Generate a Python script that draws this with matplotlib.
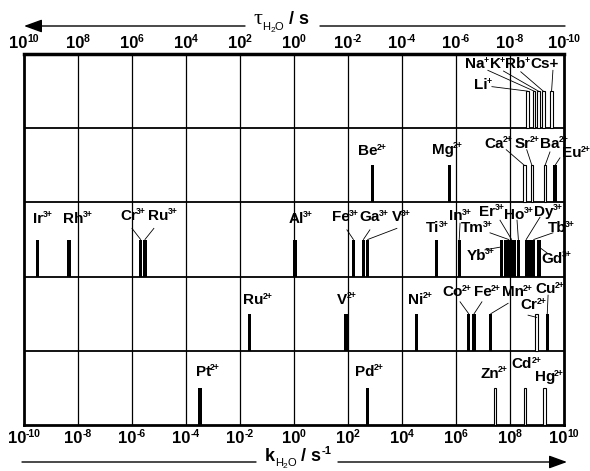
import matplotlib
matplotlib.use('Agg')
import matplotlib.pyplot as plt
import matplotlib.transforms as mtrans
from matplotlib.transforms import offset_copy
from matplotlib.patches import FancyArrowPatch

plt.rcParams['font.family'] = ['Liberation Sans', 'DejaVu Sans']

NARROW = ['Liberation Sans Narrow', 'Liberation Sans', 'DejaVu Sans']
LS = ['Liberation Sans', 'DejaVu Sans']

# ---------------- data (log10 of water exchange rate constant, s^-1) ----------------
row1_ions = ['Li+', 'Na+', 'K+', 'Rb+', 'Cs+']
row1_logk = [8.64, 8.89, 9.05, 9.23, 9.54]
row1_hollow = [True, True, True, True, True]

row2_ions = ['Be2+', 'Mg2+', 'Ca2+', 'Sr2+', 'Ba2+', 'Eu2+']
row2_logk = [2.91, 5.75, 8.53, 8.81, 9.30, 9.67]
row2_hollow = [False, False, True, True, True, False]

row3_ions = ['Ir3+', 'Rh3+', 'Cr3+', 'Ru3+', 'Al3+', 'Fe3+', 'Ga3+', 'V3+', 'Ti3+', 'In3+',
             'Yb3+', '', 'Tm3+', 'Er3+', '', 'Ho3+', 'Dy3+', '', 'Tb3+', 'Gd3+']
row3_logk = [-9.51, -8.33, -5.68, -5.52, 0.04, 2.20, 2.57, 2.73, 5.29, 6.12,
             7.68, 7.83, 7.95, 8.06, 8.17, 8.31, 8.60, 8.74, 8.88, 9.07]
row3_hollow = [False] * 20

row4_ions = ['Ru2+', 'V2+', 'Ni2+', 'Co2+', 'Fe2+', 'Mn2+', 'Cr2+', 'Cu2+']
row4_logk = [-1.66, 1.93, 4.54, 6.47, 6.67, 7.29, 8.99, 9.38]
row4_hollow = [False, False, False, False, False, False, True, False]

row5_ions = ['Pt2+', 'Pd2+', 'Zn2+', 'Cd2+', 'Hg2+']
row5_logk = [-3.48, 2.73, 7.44, 8.56, 9.27]
row5_hollow = [False, False, True, True, True]

bottom_ticks = [-10, -8, -6, -4, -2, 0, 2, 4, 6, 8, 10]
top_tick_exponents = [10, 8, 6, 4, 2, 0, -2, -4, -6, -8, -10]

# ---------------- layout (label centres and leader starts, data coords) ----------------
label_pos = {
    'Li+': (6.98, 4.60), 'Na+': (6.76, 4.88), 'K+': (7.54, 4.88), 'Rb+': (8.27, 4.88), 'Cs+': (9.27, 4.89),
    'Be2+': (2.91, 3.71), 'Mg2+': (5.69, 3.73), 'Ca2+': (7.58, 3.81), 'Sr2+': (8.62, 3.81),
    'Ba2+': (9.64, 3.81), 'Eu2+': (10.44, 3.68),
    'Ir3+': (-9.30, 2.80), 'Rh3+': (-8.0, 2.80), 'Cr3+': (-5.96, 2.84), 'Ru3+': (-4.85, 2.84),
    'Al3+': (0.24, 2.80), 'Fe3+': (1.89, 2.82), 'Ga3+': (2.96, 2.82), 'V3+': (3.98, 2.82),
    'Ti3+': (5.30, 2.67), 'In3+': (6.17, 2.83), 'Er3+': (7.33, 2.89), 'Ho3+': (8.33, 2.85),
    'Dy3+': (9.43, 2.89), 'Tm3+': (6.76, 2.67), 'Tb3+': (9.90, 2.67), 'Yb3+': (6.91, 2.30),
    'Gd3+': (9.72, 2.26),
    'Ru2+': (-1.35, 1.70), 'V2+': (1.96, 1.71), 'Ni2+': (4.69, 1.71), 'Co2+': (6.04, 1.81),
    'Fe2+': (7.15, 1.81), 'Mn2+': (8.28, 1.81), 'Cu2+': (9.48, 1.85), 'Cr2+': (8.87, 1.63),
    'Pt2+': (-3.20, 0.74), 'Pd2+': (2.78, 0.74), 'Zn2+': (7.41, 0.71), 'Cd2+': (8.61, 0.84),
    'Hg2+': (9.46, 0.66),
}
leader_start = {
    'Li+': (7.33, 4.56), 'Na+': (7.18, 4.78), 'K+': (7.76, 4.77), 'Rb+': (8.40, 4.76), 'Cs+': (9.59, 4.78),
    'Ca2+': (7.86, 3.71), 'Sr2+': (8.62, 3.71), 'Ba2+': (9.48, 3.68), 'Eu2+': (9.85, 3.60),
    'Cr3+': (-6.0, 2.65), 'Ru3+': (-5.19, 2.65), 'Fe3+': (1.96, 2.63), 'Ga3+': (2.81, 2.63),
    'V3+': (3.81, 2.65), 'In3+': (6.15, 2.72), 'Tm3+': (7.26, 2.59), 'Er3+': (7.63, 2.76),
    'Ho3+': (8.26, 2.76), 'Dy3+': (9.11, 2.80), 'Tb3+': (9.59, 2.59), 'Yb3+': (7.07, 2.36),
    'Gd3+': (9.37, 2.32),
    'Co2+': (6.15, 1.66), 'Fe2+': (6.96, 1.66), 'Mn2+': (7.93, 1.64), 'Cr2+': (8.67, 1.48),
    'Cu2+': (9.41, 1.75),
}
leader_end_y = {'Yb3+': 0.40, 'Gd3+': 0.40, 'Cr2+': 0.45}

rows = [(row1_ions, row1_logk, row1_hollow), (row2_ions, row2_logk, row2_hollow),
        (row3_ions, row3_logk, row3_hollow), (row4_ions, row4_logk, row4_hollow),
        (row5_ions, row5_logk, row5_hollow)]

W, H = 590, 471
fig = plt.figure(figsize=(W / 100, H / 100), dpi=100)
ax = fig.add_axes([24 / W, (H - 425) / H, 540 / W, 371 / H])
ax.set_xlim(-10, 10)
ax.set_ylim(0, 5)
renderer = fig.canvas.get_renderer()


def seq_text(x, y, pieces, transform, zorder=5, kern=0.0):
    """Draw pieces (text, size, family, weight, dy_pt) left to right, centred on x."""
    arts = []
    widths = []
    for txt, size, fam, wt, dy in pieces:
        t = fig.text(0, 0, txt, fontsize=size, family=fam, fontweight=wt,
                     ha='left', va='baseline', zorder=zorder)
        widths.append(t.get_window_extent(renderer).width * 72.0 / fig.dpi)
        arts.append(t)
    total = sum(widths) - kern * (len(pieces) - 1)
    cur = -total / 2.0
    for t, w, p in zip(arts, widths, pieces):
        t.set_transform(offset_copy(transform, fig=fig, x=cur, y=p[4], units='points'))
        t.set_position((x, y))
        t.set_clip_on(False)
        cur += w - kern
    return arts


FS = 11
SUP = 6.2


def ion_pieces(name):
    if name == 'Cs+':
        return [('Cs+', FS, NARROW, 'bold', -3.9)]
    i = len(name.rstrip('+0123456789'))
    return [(name[:i], FS, NARROW, 'bold', -3.9), (name[i:], SUP, NARROW, 'bold', -3.9 + 4.0)]


for r, (ions, logk, hollow) in enumerate(rows):
    base = 4 - r
    filled_x = [k for k, h in zip(logk, hollow) if not h]
    hollow_x = [k for k, h in zip(logk, hollow) if h]
    ax.bar(filled_x, [0.5] * len(filled_x), bottom=base, width=0.12,
           color='black', linewidth=0, zorder=3)
    ax.bar(hollow_x, [0.5] * len(hollow_x), bottom=base, width=0.10,
           color='white', edgecolor='black', linewidth=0.8, zorder=3)
    for name, k in zip(ions, logk):
        if not name:
            continue
        lx, ly = label_pos[name]
        seq_text(lx, ly, ion_pieces(name), ax.transData, kern=0.6)
        if name in leader_start:
            sx, sy = leader_start[name]
            ey = base + leader_end_y.get(name, 0.5)
            ax.plot([sx, k], [sy, ey], color='black', linewidth=0.6, zorder=4,
                    clip_on=False)

# grid lines
for t in bottom_ticks[1:-1]:
    ax.axvline(t, color='black', linewidth=0.9, zorder=1)
for y in range(1, 5):
    ax.axhline(y, color='black', linewidth=1.3, zorder=1)

for s in ax.spines.values():
    s.set_linewidth(2)
ax.spines['top'].set_linewidth(2.5)

ax.set_xticks(bottom_ticks)
ax.set_xticklabels([])
ax.set_yticks([])
ax.tick_params(axis='x', length=0)

# tick labels (bold "10" with small superscript exponent)
tick_tr = mtrans.blended_transform_factory(ax.transData, fig.transFigure)
for t in bottom_ticks:
    seq_text(t, 1 - 443 / H, [('10', 12, LS, 'bold', 0), ('%d' % t, 7.5, LS, 'bold', 4.5)],
             tick_tr, kern=0.3)
for t, e in zip(bottom_ticks, top_tick_exponents):
    seq_text(t, 1 - 48 / H, [('10', 12, LS, 'bold', 0), ('%d' % e, 7.5, LS, 'bold', 4.5)],
             tick_tr, kern=0.3)

# axis titles with arrows
top_title = [('\u03c4', 16, ['Liberation Serif', 'DejaVu Serif'], 'normal', 0),
             ('H', 8, LS, 'normal', -4), ('2', 6, LS, 'normal', -6), ('O', 8, LS, 'normal', -4),
             (' / s', 13, LS, 'bold', 0)]
seq_text(281 / W, 1 - 24 / H, top_title, fig.transFigure)
bottom_title = [('k', 13, LS, 'bold', 0),
                ('H', 8, LS, 'normal', -3.5), ('2', 6, LS, 'normal', -5), ('O', 8, LS, 'normal', -3.5),
                (' / s', 13, LS, 'bold', 0), ('-1', 8, LS, 'bold', 5)]
seq_text(298 / W, 1 - 461 / H, bottom_title, fig.transFigure)

arrow_kw = dict(arrowstyle='-|>,head_length=1.1,head_width=0.4', mutation_scale=10,
                color='black', lw=1.0, shrinkA=0, shrinkB=0)
line_kw = dict(arrowstyle='-', color='black', lw=1.0, shrinkA=0, shrinkB=0)
fig.add_artist(FancyArrowPatch((245 / W, 1 - 26 / H), (24 / W, 1 - 26 / H),
                               transform=fig.transFigure, **arrow_kw))
fig.add_artist(FancyArrowPatch((320 / W, 1 - 26 / H), (565 / W, 1 - 26 / H),
                               transform=fig.transFigure, **line_kw))
fig.add_artist(FancyArrowPatch((22 / W, 1 - 462 / H), (256 / W, 1 - 462 / H),
                               transform=fig.transFigure, **line_kw))
fig.add_artist(FancyArrowPatch((338 / W, 1 - 462 / H), (567 / W, 1 - 462 / H),
                               transform=fig.transFigure, **arrow_kw))

fig.savefig('out.png', dpi=100)
